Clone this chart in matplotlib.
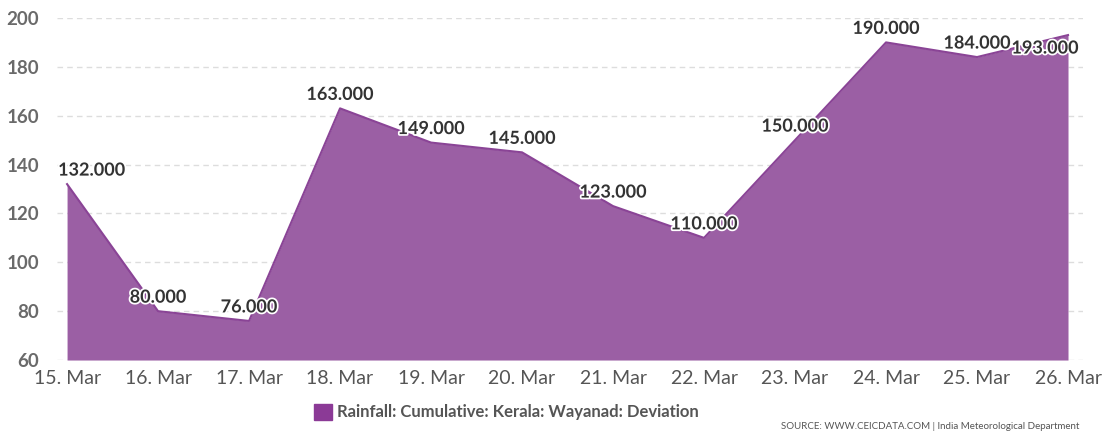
import matplotlib.pyplot as plt
import matplotlib.patheffects as pe
from matplotlib.patches import Patch

# Rainfall deviation, Wayanad (Kerala), daily cumulative
dates = ['15. Mar', '16. Mar', '17. Mar', '18. Mar', '19. Mar', '20. Mar',
         '21. Mar', '22. Mar', '23. Mar', '24. Mar', '25. Mar', '26. Mar']
deviation = [132, 80, 76, 163, 149, 145, 123, 110, 150, 190, 184, 193]
y_ticks = [60, 80, 100, 120, 140, 160, 180, 200]

FILL = '#9b5fa4'
EDGE = '#8a4496'
plt.rcParams['font.family'] = ['Lato', 'DejaVu Sans']

fig = plt.figure(figsize=(11.1, 4.38), dpi=100)
ax = fig.add_axes([0.0514, 0.178, 0.9243, 0.781])

x = list(range(len(dates)))
ax.fill_between(x, deviation, 60, color=FILL, linewidth=0, zorder=2)
ax.plot(x, deviation, color=EDGE, linewidth=1.5, zorder=3)

ax.set_xlim(-0.11, len(dates) - 1 + 0.165)
ax.set_ylim(60, 200)
ax.set_yticks(y_ticks)
ax.set_xticks(x)
ax.set_xticklabels(dates)
ax.tick_params(axis='x', length=0, pad=7, labelsize=14, colors='#555555')
ax.tick_params(axis='y', length=0, pad=13, labelsize=13.5, colors='#6a6a6a')
for lbl in ax.get_yticklabels():
    lbl.set_fontweight('bold')

ax.grid(axis='y', color='#dddddd', linestyle=(0, (4, 3)), linewidth=1, zorder=1)
for s in ax.spines.values():
    s.set_visible(False)

# value labels with a white halo
halo = [pe.withStroke(linewidth=2.5, foreground='white')]
for i, v in enumerate(deviation):
    dx, dy, ha = 0, 14, 'center'
    if i == 0:
        dx, ha = -9, 'left'
    elif i == len(deviation) - 1:
        dx, dy = -23, -13
    ax.annotate(f'{v:.3f}', (i, v), xytext=(dx, dy), textcoords='offset pixels',
                ha=ha, va='center', fontsize=13, fontweight='bold',
                color='#333333', path_effects=halo, zorder=4)

fig.legend(handles=[Patch(color='#8b3a96')],
           labels=['Rainfall: Cumulative: Kerala: Wayanad: Deviation'],
           loc='center', bbox_to_anchor=(0.456, 0.059), frameon=False,
           handlelength=1.1, handleheight=1.1, handletextpad=0.3,
           prop={'size': 12, 'weight': 'bold'}, labelcolor='#555555')
fig.text(0.972, 0.015, 'SOURCE: WWW.CEICDATA.COM | India Meteorological Department',
         ha='right', va='bottom', fontsize=7, color='#555555')

fig.savefig('out.png', dpi=100)
